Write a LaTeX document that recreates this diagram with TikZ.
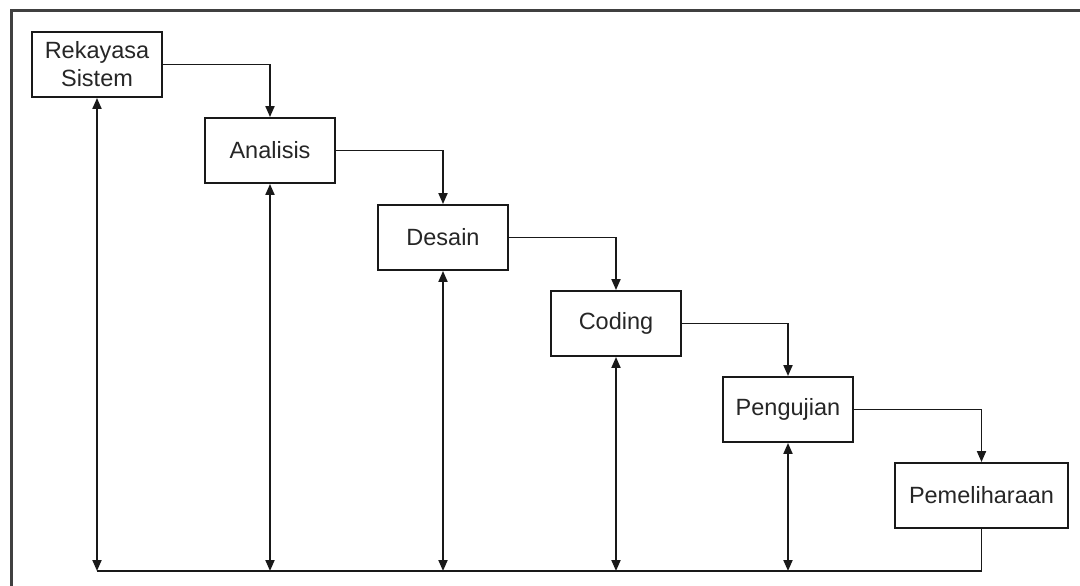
\documentclass[tikz,border=0pt]{standalone}
\usepackage{fontspec}
\setmainfont{Liberation Sans}
\usetikzlibrary{arrows.meta}
\begin{document}
\begin{tikzpicture}[x=1pt,y=-1pt,
  stepbox/.style={draw=black!90, line width=1.9pt, fill=white, minimum width=130pt, minimum height=65pt,
    inner sep=0pt, align=center, font=\fontsize{23.5}{28}\selectfont, text=black!85},
  conn/.style={draw=black!90, line width=1.9pt},
  arr/.style={conn, -{Triangle[length=11pt,width=9pt]}},
  darr/.style={conn, {Triangle[length=11pt,width=9pt]}-{Triangle[length=11pt,width=9pt]}}]
\useasboundingbox (0,0) rectangle (1080,586);
\fill[white] (0,0) rectangle (1080,586);
\draw[black!75, line width=3pt] (11,586) -- (11,11) -- (1080,11);
\node[stepbox] (R) at (97,64.5) {Rekayasa\\Sistem};
\node[stepbox] (A) at (270,150.5) {Analisis};
\node[stepbox] (D) at (443,237.5) {Desain};
\node[stepbox] (C) at (616,323.5) {Coding};
\node[stepbox] (P) at (788,409.5) {Pengujian};
\node[stepbox, minimum width=173pt] (M) at (981.5,495.5) {Pemeliharaan};
\coordinate (base) at (0,571);
\draw[arr] (R.east) -| (A.north);
\draw[arr] (A.east) -| (D.north);
\draw[arr] (D.east) -| (C.north);
\draw[arr] (C.east) -| (P.north);
\draw[arr] (P.east) -| (M.north);
\draw[conn] (M.south) |- (R.south |- base);
\draw[darr] (R.south) -- (R.south |- base);
\draw[darr] (A.south) -- (A.south |- base);
\draw[darr] (D.south) -- (D.south |- base);
\draw[darr] (C.south) -- (C.south |- base);
\draw[darr] (P.south) -- (P.south |- base);
\end{tikzpicture}
\end{document}
